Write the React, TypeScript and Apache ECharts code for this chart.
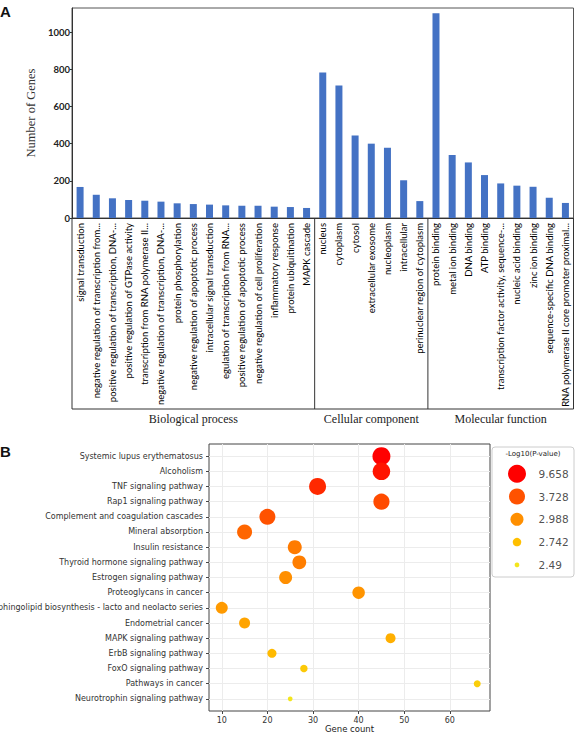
import React, { useEffect, useRef } from "react";
import * as echarts from "echarts";

// ---- Panel A: GO term gene counts ----
const goCategories = [
  "signal transduction",
  "negative regulation of transcription from...",
  "positive regulation of transcription, DNA-...",
  "positive regulation of GTPase activity",
  "transcription from RNA polymerase II...",
  "negative regulation of transcription, DNA-...",
  "protein phosphorylation",
  "negative regulation of apoptotic process",
  "intracellular signal transduction",
  "egulation of transcription from RNA...",
  "positive regulation of apoptotic process",
  "negative regulation of cell proliferation",
  "inflammatory response",
  "protein ubiquitination",
  "MAPK cascade",
  "nucleus",
  "cytoplasm",
  "cytosol",
  "extracellular exosome",
  "nucleoplasm",
  "intracellular",
  "perinuclear region of cytoplasm",
  "protein binding",
  "metal ion binding",
  "DNA binding",
  "ATP binding",
  "transcription factor activity, sequence-...",
  "nucleic acid binding",
  "zinc ion binding",
  "sequence-specific DNA binding",
  "RNA polymerase II core promoter proximal...",
];
const goCounts = [
  167, 125, 106, 97, 93, 88, 79, 75, 72, 68, 66, 66, 61, 59, 54,
  783, 713, 444, 400, 378, 203, 91,
  1102, 339, 299, 231, 186, 174, 168, 109, 81,
];
const goGroups = ["Biological process", "Cellular component", "Molecular function"];
const goGroupSizes = [15, 7, 9];

// ---- Panel B: KEGG pathway enrichment ----
const pathways = [
  "Systemic lupus erythematosus",
  "Alcoholism",
  "TNF signaling pathway",
  "Rap1 signaling pathway",
  "Complement and coagulation cascades",
  "Mineral absorption",
  "Insulin resistance",
  "Thyroid hormone signaling pathway",
  "Estrogen signaling pathway",
  "Proteoglycans in cancer",
  "Glycosphingolipid biosynthesis - lacto and neolacto series",
  "Endometrial cancer",
  "MAPK signaling pathway",
  "ErbB signaling pathway",
  "FoxO signaling pathway",
  "Pathways in cancer",
  "Neurotrophin signaling pathway",
];
const geneCounts = [45, 45, 31, 45, 20, 15, 26, 27, 24, 40, 10, 15, 47, 21, 28, 66, 25];
const negLog10P = [
  9.658, 8.2, 6.7, 4.2, 3.728, 3.48, 3.235, 3.19, 2.988, 2.961, 2.933, 2.879, 2.824, 2.77,
  2.675, 2.642, 2.49,
];
const legendValues = [9.658, 3.728, 2.988, 2.742, 2.49];
const geneCountTicks = [10, 20, 30, 40, 50, 60];

// marker styling at each legend value
const sizeStops = [18, 16, 13, 8.5, 4.7];
const colorStops = ["#ff0000", "#ff5200", "#ff8f00", "#ffbf00", "#f3e51c"];

function hexToRgb(h: string) {
  const n = parseInt(h.slice(1), 16);
  return [(n >> 16) & 255, (n >> 8) & 255, n & 255];
}

function stopPos(v: number) {
  for (let i = 0; i < legendValues.length - 1; i++) {
    const hi = legendValues[i];
    const lo = legendValues[i + 1];
    if (v <= hi && v >= lo) return { i, t: (v - lo) / (hi - lo) };
  }
  return v > legendValues[0] ? { i: 0, t: 1 } : { i: legendValues.length - 2, t: 0 };
}

function markerSize(v: number) {
  const { i, t } = stopPos(v);
  return sizeStops[i + 1] + t * (sizeStops[i] - sizeStops[i + 1]);
}

function markerColor(v: number) {
  const { i, t } = stopPos(v);
  const a = hexToRgb(colorStops[i + 1]);
  const b = hexToRgb(colorStops[i]);
  const c = a.map((x, k) => Math.round(x + t * (b[k] - x)));
  return `rgb(${c[0]},${c[1]},${c[2]})`;
}

// layout
const W = 576;
const H = 734;
const barLeft = 72;
const barRight = 2.5;
const barTop = 8;
const barZero = 218;
const boxBottom = 409;
const barPlotW = W - barLeft - barRight;
const band = barPlotW / goCategories.length;

const dotLeft = 209;
const dotRight = 490;
const dotTop = 444;
const dotBottom = 711;

function buildOption(): echarts.EChartsCoreOption {
  const lineStyle = { stroke: "#333", lineWidth: 1 };
  const groupGraphics: any[] = [];
  let start = 0;
  const xs: number[] = [barLeft];
  goGroupSizes.forEach((n, g) => {
    const x0 = barLeft + start * band;
    const x1 = barLeft + (start + n) * band;
    xs.push(x1);
    groupGraphics.push({
      type: "text",
      x: (x0 + x1) / 2,
      y: 419,
      style: {
        text: goGroups[g],
        fill: "#222",
        font: '12px "Liberation Serif"',
        textAlign: "center",
        textVerticalAlign: "middle",
      },
    });
    start += n;
  });
  xs.forEach((x) => {
    groupGraphics.push({
      type: "line",
      shape: { x1: x, y1: barZero, x2: x, y2: boxBottom },
      style: lineStyle,
    });
  });
  groupGraphics.push({
    type: "line",
    shape: { x1: barLeft, y1: boxBottom, x2: W - barRight, y2: boxBottom },
    style: lineStyle,
  });

  const yIdx = pathways.map((_, i) => i);

  return {
    animation: false,
    backgroundColor: "#fff",
    grid: [
      {
        left: barLeft,
        right: barRight,
        top: barTop,
        height: barZero - barTop,
        show: true,
        borderColor: "#555",
        borderWidth: 1,
        outerBoundsMode: "none",
      },
      {
        left: dotLeft,
        right: W - dotRight,
        top: dotTop,
        height: dotBottom - dotTop,
        show: true,
        borderColor: "#444",
        borderWidth: 1,
        outerBoundsMode: "none",
      },
      { left: 492, width: 82, top: 462.3, height: 114, outerBoundsMode: "none" },
    ],
    xAxis: [
      {
        gridIndex: 0,
        type: "category",
        data: goCategories,
        axisLine: { lineStyle: { color: "#333" } },
        axisTick: { show: false },
        axisLabel: {
          interval: 0,
          rotate: 90,
          margin: 5,
          fontFamily: "Lato",
          fontSize: 9.5,
          color: "#000",
        },
      },
      {
        gridIndex: 1,
        type: "value",
        min: 7.2,
        max: 68.8,
        axisLine: { show: false, onZero: false },
        axisTick: { show: true, customValues: geneCountTicks, length: 3, lineStyle: { color: "#444" } },
        axisLabel: {
          customValues: geneCountTicks,
          fontFamily: "DejaVu Sans",
          fontSize: 8,
          color: "#333",
          margin: 5,
        },
        splitLine: { show: true, lineStyle: { color: "#ececec" } },
        name: "Gene count",
        nameLocation: "middle",
        nameGap: 13,
        nameTextStyle: { fontFamily: "DejaVu Sans", fontSize: 8.5, color: "#222" },
      },
      { gridIndex: 2, type: "value", min: 0, max: 82, show: false },
    ],
    yAxis: [
      {
        gridIndex: 0,
        type: "value",
        min: 0,
        max: 1130,
        interval: 200,
        name: "Number of Genes",
        nameLocation: "middle",
        nameGap: 34,
        nameTextStyle: { fontFamily: "Liberation Serif", fontSize: 12.5, color: "#333" },
        axisLine: { show: true, lineStyle: { color: "#333" } },
        axisTick: { show: true, length: 2, lineStyle: { color: "#333" } },
        axisLabel: {
          showMaxLabel: false,
          formatter: (v: number) => String(v),
          fontFamily: "Lato",
          fontWeight: "bold",
          fontSize: 9.5,
          color: "#222",
          margin: 2,
        },
        splitLine: { show: false },
      },
      {
        gridIndex: 1,
        type: "value",
        inverse: true,
        min: -0.8,
        max: 16.8,
        axisLine: { show: false, onZero: false },
        axisTick: { show: true, customValues: yIdx, length: 3, lineStyle: { color: "#444" } },
        axisLabel: {
          customValues: yIdx,
          formatter: (v: number) => pathways[Math.round(v)] ?? "",
          fontFamily: "DejaVu Sans",
          fontSize: 8,
          color: "#333",
          margin: 6,
        },
        splitLine: { show: true, lineStyle: { color: "#ececec" } },
      },
      {
        gridIndex: 2,
        type: "category",
        inverse: true,
        data: legendValues.map(String),
        show: false,
      },
    ],
    series: [
      {
        type: "bar",
        xAxisIndex: 0,
        yAxisIndex: 0,
        data: goCounts,
        barWidth: 7,
        itemStyle: { color: "#4472c4" },
      },
      {
        type: "scatter",
        xAxisIndex: 1,
        yAxisIndex: 1,
        data: pathways.map((_, i) => ({
          value: [geneCounts[i], i],
          symbolSize: markerSize(negLog10P[i]),
          itemStyle: { color: markerColor(negLog10P[i]), opacity: 1 },
        })),
      },
      {
        type: "scatter",
        xAxisIndex: 2,
        yAxisIndex: 2,
        z: 5,
        data: legendValues.map((v, i) => ({
          value: [25, i],
          symbolSize: markerSize(v),
          itemStyle: { color: markerColor(v), opacity: 1 },
        })),
      },
      {
        type: "scatter",
        xAxisIndex: 2,
        yAxisIndex: 2,
        z: 5,
        symbolSize: 1,
        itemStyle: { color: "rgba(0,0,0,0)" },
        label: {
          show: true,
          position: "right",
          distance: 0,
          formatter: (p: any) => String(legendValues[p.dataIndex]),
          fontFamily: "DejaVu Sans",
          fontSize: 10.5,
          color: "#222",
        },
        data: legendValues.map((_, i) => [46, i]),
      },
    ],
    graphic: [
      ...groupGraphics,
      {
        type: "rect",
        z: 0,
        shape: { x: 492, y: 447, width: 82, height: 130, r: 3 },
        style: { fill: "#fff", stroke: "#cccccc", lineWidth: 1 },
      },
      {
        type: "text",
        z: 1,
        x: 533,
        y: 454,
        style: {
          text: "-Log10(P-value)",
          fill: "#222",
          font: '7px "DejaVu Sans"',
          textAlign: "center",
          textVerticalAlign: "middle",
        },
      },
      {
        type: "text",
        x: 0,
        y: 4,
        style: { text: "A", fill: "#111", font: 'bold 15px "Liberation Sans"' },
      },
      {
        type: "text",
        x: 0,
        y: 444,
        style: { text: "B", fill: "#111", font: 'bold 15px "Liberation Sans"' },
      },
    ],
  };
}

export default function App() {
  const ref = useRef<HTMLDivElement>(null);
  useEffect(() => {
    if (!ref.current) return;
    const chart = echarts.init(ref.current, null, { renderer: "svg" });
    chart.setOption(buildOption());
    return () => chart.dispose();
  }, []);
  return (
    <div
      ref={ref}
      style={{ position: "absolute", left: 0, top: 0, width: W, height: H }}
    />
  );
}
